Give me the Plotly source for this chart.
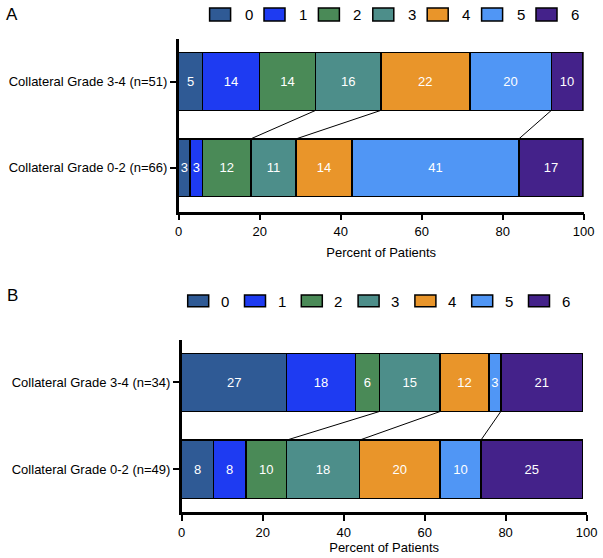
import itertools
import plotly.graph_objects as go

W, H = 603, 558

# ---------------- data ----------------
grades = ["0", "1", "2", "3", "4", "5", "6"]
colors = ["#2F5A95", "#1E3BF2", "#4A8A57", "#4D8E8A", "#E9952A", "#5096F5", "#44228A"]

groups_a = ["Collateral Grade 0-2 (n=66)", "Collateral Grade 3-4 (n=51)"]
a_top = [5.9, 14.0, 13.9, 16.1, 22.0, 20.1, 7.8]      # Grade 3-4 (n=51)
a_bot = [2.8, 3.1, 11.9, 11.2, 13.8, 41.2, 15.8]      # Grade 0-2 (n=66)
a_top_labels = ["5", "14", "14", "16", "22", "20", "10"]
a_bot_labels = ["3", "3", "12", "11", "14", "41", "17"]

groups_b = ["Collateral Grade 0-2 (n=49)", "Collateral Grade 3-4 (n=34)"]
b_top = [25.9, 17.0, 5.9, 15.0, 12.1, 2.9, 20.2]      # Grade 3-4 (n=34)
b_bot = [7.8, 8.1, 10.0, 18.0, 19.9, 10.1, 25.1]      # Grade 0-2 (n=49)
b_top_labels = ["27", "18", "6", "15", "12", "3", "21"]
b_bot_labels = ["8", "8", "10", "18", "20", "10", "25"]

x_ticks = [0, 20, 40, 60, 80, 100]
linked = [2, 3, 5]   # boundaries (after these grade indexes) joined by lines

FONT = "Liberation Sans, Arial, Helvetica, sans-serif"
BAR_W = 0.67


def px(x):
    return x / W


def py(y):
    return 1 - y / H


fig = go.Figure()

panels = [
    ("x", "y", a_top, a_bot, a_top_labels, a_bot_labels),
    ("x2", "y2", b_top, b_bot, b_top_labels, b_bot_labels),
]

for xa, ya, top, bot, tl, bl in panels:
    for i, g in enumerate(grades):
        fig.add_trace(go.Bar(
            y=[0, 1], x=[bot[i], top[i]], orientation="h",
            xaxis=xa, yaxis=ya, name=g, showlegend=False,
            width=BAR_W,
            marker=dict(color=colors[i], line=dict(color="black", width=1.5)),
            text=[bl[i], tl[i]], textposition="inside", insidetextanchor="middle",
            textangle=0,
            textfont=dict(color="white", size=13, family=FONT),
            hoverinfo="skip",
        ))
    ct = list(itertools.accumulate(top))
    cb = list(itertools.accumulate(bot))
    for k in linked:
        fig.add_shape(type="line", xref=xa, yref=ya,
                      x0=ct[k], y0=1 - BAR_W / 2, x1=cb[k], y1=BAR_W / 2,
                      line=dict(color="black", width=1))

# ---------------- legends (drawn) ----------------
legend_specs = [
    (209.6, 54.4, 8.0, 21.0, 33.0, 14.5),
    (187.7, 56.8, 295.0, 306.7, 31.0, 301.0),
]
for left0, step, y0, y1, toff, ty in legend_specs:
    for i, g in enumerate(grades):
        left = left0 + i * step
        fig.add_shape(type="rect", xref="paper", yref="paper",
                      x0=px(left), x1=px(left + 21), y0=py(y1), y1=py(y0),
                      fillcolor=colors[i], line=dict(color="black", width=1.5))
        fig.add_annotation(x=px(left + toff), y=py(ty), xref="paper", yref="paper",
                           text=g, showarrow=False, xanchor="left", yanchor="middle",
                           font=dict(size=15, color="black", family=FONT))

for letter, ly in [("A", 14), ("B", 295)]:
    fig.add_annotation(x=px(12), y=py(ly), xref="paper", yref="paper", text=letter,
                       showarrow=False, xanchor="center", yanchor="middle",
                       font=dict(size=17, color="black", family=FONT))

# ---------------- axes ----------------
axis_common = dict(showgrid=False, zeroline=False, showline=True, linecolor="black",
                   linewidth=2.5, ticks="outside", tickcolor="black", tickwidth=2,
                   ticklen=6, tickfont=dict(size=13, color="black", family=FONT))

fig.update_layout(
    xaxis=dict(domain=[px(178.7), px(583.7)], range=[0, 100], tickvals=x_ticks,
               anchor="y", title=dict(text="Percent of Patients", standoff=10,
                                      font=dict(size=13, color="black", family=FONT)),
               **axis_common),
    yaxis=dict(domain=[py(211.7), py(39.3)], range=[-0.51, 1.49], tickvals=[0, 1],
               ticktext=groups_a, anchor="x", **axis_common),
    xaxis2=dict(domain=[px(181.7), px(586.6)], range=[0, 100], tickvals=x_ticks,
                anchor="y2", title=dict(text="Percent of Patients", standoff=4,
                                        font=dict(size=13, color="black", family=FONT)),
                **axis_common),
    yaxis2=dict(domain=[py(512.3), py(340)], range=[-0.497, 1.49], tickvals=[0, 1],
                ticktext=groups_b, anchor="x2", **axis_common),
    barmode="stack",
    uniformtext=dict(minsize=13, mode="show"),
    width=W, height=H,
    margin=dict(l=0, r=0, t=0, b=0),
    paper_bgcolor="white", plot_bgcolor="white",
    font=dict(family=FONT, color="black"),
    showlegend=False,
    template="none",
)

fig.write_html(
    "out.html",
    config={"displayModeBar": False},
    post_script="document.body.style.margin='0';document.body.style.overflow='hidden';",
)
